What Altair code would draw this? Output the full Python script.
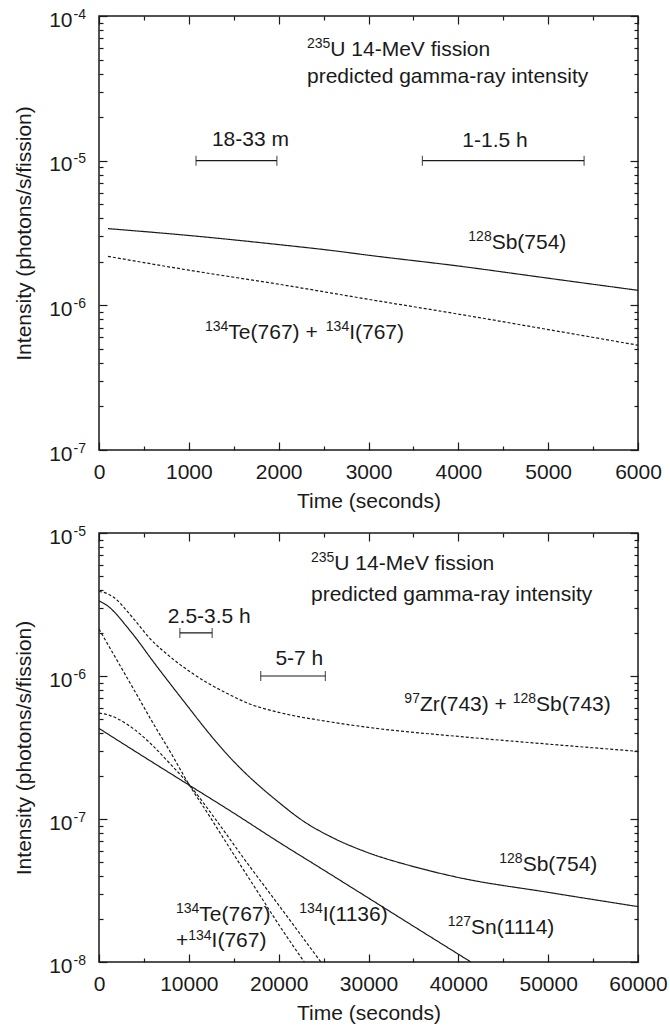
import re
import altair as alt
import pandas as pd

FONT = "Liberation Sans"
INK = "#1a1a1a"
FS = 21      # main text size
SUP = 14     # superscript size

# ---------------- top panel ----------------
top_x_domain = [0, 6000]
top_y_domain = [1e-7, 1e-4]
top_x_major = [0, 1000, 2000, 3000, 4000, 5000, 6000]
top_x_minor = [500, 1500, 2500, 3500, 4500, 5500]
top_decades = [1e-7, 1e-6, 1e-5, 1e-4]

top_sb754_t = [100, 1000, 2000, 2600, 3000, 4000, 5000, 6000]
top_sb754_v = [3.39e-6, 3.04e-6, 2.63e-6, 2.39e-6, 2.22e-6, 1.87e-6, 1.54e-6, 1.27e-6]
top_tei767_t = [100, 1000, 2000, 3000, 4000, 5000, 6000]
top_tei767_v = [2.18e-6, 1.75e-6, 1.40e-6, 1.10e-6, 8.7e-7, 6.8e-7, 5.3e-7]

top_bar_x1 = [1080, 3600]
top_bar_x2 = [1980, 5400]
top_bar_y = [1e-5, 1e-5]

top_lab_x = [2315, 2315, 1686, 4408, 4111, 1180]
top_lab_y = [6.0e-5, 3.88e-5, 1.42e-5, 1.40e-5, 2.77e-6, 6.6e-7]
top_lab_text = ["{235}U 14-MeV fission", "predicted gamma-ray intensity",
                "18-33 m", "1-1.5 h", "{128}Sb(754)", "{134}Te(767) + {134}I(767)"]
top_lab_anchor = ["left", "left", "center", "center", "left", "left"]

# ---------------- bottom panel ----------------
bot_x_domain = [0, 60000]
bot_y_domain = [1e-8, 1e-5]
bot_x_major = [0, 10000, 20000, 30000, 40000, 50000, 60000]
bot_x_minor = [5000, 15000, 25000, 35000, 45000, 55000]
bot_decades = [1e-8, 1e-7, 1e-6, 1e-5]

bot_zr743_t = [0, 1000, 2000, 3000, 4000, 5600, 8000, 10240, 12000, 14000, 16700,
               20000, 26000, 30000, 40000, 50000, 60000]
bot_zr743_v = [3.9e-6, 3.75e-6, 3.4e-6, 2.9e-6, 2.45e-6, 1.85e-6, 1.35e-6, 1.06e-6,
               9.0e-7, 7.7e-7, 6.4e-7, 5.57e-7, 4.75e-7, 4.37e-7, 3.78e-7, 3.34e-7, 2.97e-7]
bot_sb754_t = [0, 1000, 2000, 3000, 4000, 6000, 8000, 10000, 12000, 14000, 16000, 18000,
               20000, 22500, 26400, 30000, 35000, 40000, 50000, 60000]
bot_sb754_v = [3.35e-6, 3.08e-6, 2.68e-6, 2.25e-6, 1.88e-6, 1.27e-6, 8.7e-7, 6.0e-7,
               4.15e-7, 2.95e-7, 2.18e-7, 1.67e-7, 1.31e-7, 9.9e-8, 7.2e-8, 5.8e-8,
               4.65e-8, 3.9e-8, 3.07e-8, 2.44e-8]
bot_sn1114_t = [0, 5000, 10000, 15000, 20000, 25000, 30000, 35000, 41400]
bot_sn1114_v = [4.3e-7, 2.72e-7, 1.73e-7, 1.10e-7, 6.9e-8, 4.4e-8, 2.8e-8, 1.78e-8, 1.0e-8]
bot_i1136_t = [0, 1000, 2000, 3000, 4000, 6000, 8000, 10000, 13000, 16170, 20000, 24700]
bot_i1136_v = [5.5e-7, 5.35e-7, 5.05e-7, 4.65e-7, 4.2e-7, 3.25e-7, 2.4e-7, 1.75e-7,
               9.9e-8, 5.25e-8, 2.5e-8, 1.0e-8]
bot_te767_t = [0, 2000, 4000, 6000, 8000, 10000, 12000, 14000, 16000, 18000, 20000, 22850]
bot_te767_v = [2.13e-6, 1.29e-6, 7.8e-7, 4.7e-7, 2.9e-7, 1.75e-7, 1.12e-7, 7.1e-8,
               4.5e-8, 2.87e-8, 1.83e-8, 1.0e-8]

bot_bar_x1 = [9000, 18000]
bot_bar_x2 = [12600, 25200]
bot_bar_y = [2e-6, 1e-6]

bot_lab_x = [23600, 23600, 12280, 22300, 33990, 44560, 38820, 22300, 8570, 8570]
bot_lab_y = [6.24e-6, 3.80e-6, 2.64e-6, 1.35e-6, 6.47e-7, 4.9e-8, 1.78e-8, 2.2e-8,
             2.2e-8, 1.43e-8]
bot_lab_text = ["{235}U 14-MeV fission", "predicted gamma-ray intensity", "2.5-3.5 h",
                "5-7 h", "{97}Zr(743) + {128}Sb(743)", "{128}Sb(754)", "{127}Sn(1114)",
                "{134}I(1136)", "{134}Te(767)", "+{134}I(767)"]
bot_lab_anchor = ["left", "left", "center", "center", "left", "left", "left", "left",
                  "left", "left"]

MANTISSAS = [2, 3, 4, 5, 6, 7, 8, 9]

# Arial / Liberation Sans advance widths (per 1000 em)
W = {' ': 278, '(': 333, ')': 333, '+': 584, '-': 333, '.': 278,
     'S': 667, 'T': 611, 'I': 278, 'Z': 611, 'U': 722, 'M': 833, 'V': 667,
     'b': 556, 'e': 556, 'r': 333, 'n': 556, 'f': 278, 'i': 222, 's': 500, 'o': 556,
     'c': 500, 'p': 556, 'd': 556, 't': 278, 'g': 556, 'a': 556, 'm': 833, 'y': 500,
     'h': 556, 'l': 222}


def tw(s, size):
    return sum(W.get(ch, 556) for ch in s) / 1000.0 * size


def split_label(label):
    segs = []
    for p in re.split(r'(\{[^}]*\})', label):
        if not p:
            continue
        if p.startswith('{'):
            segs.append((p[1:-1], True))
        else:
            segs.append((p, False))
    return segs


def base_axis(**kw):
    d = dict(domain=False, grid=False, tickColor=INK, tickWidth=1.2,
             labelFont=FONT, labelFontSize=FS, labelColor=INK, labelOverlap=False,
             labelFlush=False, titleFont=FONT, titleFontSize=FS, titleColor=INK,
             titleFontWeight='normal')
    d.update(kw)
    return alt.Axis(**d)


def panel(xdom, ydom, xmaj, xmin, decades, series, bars, labels, height):
    xs = alt.Scale(domain=xdom, nice=False, zero=False)
    ys = alt.Scale(type='log', domain=ydom, nice=False)
    ymin = [m * d for d in decades[:-1] for m in MANTISSAS]
    frame = pd.DataFrame({'x': xdom, 'y': ydom})

    def ghost(xaxis, yaxis):
        return alt.Chart(frame).mark_point(opacity=0).encode(
            x=alt.X('x:Q', scale=xs, axis=xaxis),
            y=alt.Y('y:Q', scale=ys, axis=yaxis))

    rows = []
    for name, dash, ts, vs in series:
        for t, v in zip(ts, vs):
            rows.append({'x': t, 'y': v, 'series': name, 'dash': dash})
    lines = alt.Chart(pd.DataFrame(rows)).mark_line(
        color=INK, strokeWidth=1.2, interpolate='monotone', clip=True).encode(
        x=alt.X('x:Q', scale=xs, axis=base_axis(
            orient='bottom', values=xmaj, offset=-8, tickSize=8, format='d',
            labelBaseline='alphabetic', labelPadding=28,
            title='Time (seconds)', titlePadding=8)),
        y=alt.Y('y:Q', scale=ys, axis=base_axis(
            orient='left', values=decades, offset=-8, tickSize=8,
            labelExpr="'10'", labelAlign='right', labelBaseline='alphabetic',
            labelPadding=27, labelOffset=10,
            title='Intensity (photons/s/fission)', titlePadding=14)),
        detail='series:N',
        strokeDash=alt.StrokeDash('dash:N', scale=alt.Scale(
            domain=['solid', 'dashed'], range=[[1, 0], [3, 2]]), legend=None))

    layers = [
        lines,
        ghost(base_axis(orient='bottom', values=xmin, offset=-4, tickSize=4,
                        labels=False, title=None),
              base_axis(orient='left', values=ymin, offset=-4, tickSize=4,
                        labels=False, title=None)),
        ghost(base_axis(orient='top', values=xmaj, offset=-8, tickSize=8,
                        labels=False, title=None),
              base_axis(orient='right', values=decades, offset=-8, tickSize=8,
                        labels=False, title=None)),
        ghost(base_axis(orient='top', values=xmin, offset=-4, tickSize=4,
                        labels=False, title=None),
              base_axis(orient='right', values=ymin, offset=-4, tickSize=4,
                        labels=False, title=None)),
        ghost(None,
              base_axis(orient='left', values=decades, offset=-8, tickSize=8,
                        tickOpacity=0, labelExpr="'-' + round(-log(datum.value)/LN10)",
                        labelFontSize=SUP, labelAlign='left', labelBaseline='alphabetic',
                        labelPadding=26, labelOffset=2, title=None)),
    ]

    x1s, x2s, bys = bars
    bar_df = pd.DataFrame({'x': x1s, 'x2': x2s, 'y': bys})
    cap_df = pd.DataFrame({'x': list(x1s) + list(x2s), 'y': list(bys) + list(bys)})
    layers.append(alt.Chart(bar_df).mark_rule(color=INK, strokeWidth=1.2).encode(
        x=alt.X('x:Q', scale=xs, axis=None), x2='x2:Q',
        y=alt.Y('y:Q', scale=ys, axis=None)))
    layers.append(alt.Chart(cap_df).mark_tick(
        color=INK, thickness=1.2, size=10, orient='vertical').encode(
        x=alt.X('x:Q', scale=xs, axis=None), y=alt.Y('y:Q', scale=ys, axis=None)))

    lx, ly, ltext, lanchor = labels
    for x, y, text, anchor in zip(lx, ly, ltext, lanchor):
        segs = split_label(text)
        total = sum(tw(s, SUP if sup else FS) for s, sup in segs)
        off = -total / 2.0 if anchor == 'center' else 0.0
        for s, sup in segs:
            size = SUP if sup else FS
            lead = len(s) - len(s.lstrip(' '))
            trail = len(s) - len(s.rstrip(' '))
            core = s.strip(' ')
            off += lead * tw(' ', size)
            layers.append(alt.Chart(pd.DataFrame({'x': [x], 'y': [y]})).mark_text(
                text=core, font=FONT, fontSize=size, color=INK, align='left',
                baseline='alphabetic', dx=off, dy=(0 if sup else 7.5)).encode(
                x=alt.X('x:Q', scale=xs, axis=None),
                y=alt.Y('y:Q', scale=ys, axis=None)))
            off += tw(core, size) + trail * tw(' ', size)

    return alt.layer(*layers).resolve_axis(
        x='independent', y='independent').properties(width=539, height=height)


top = panel(top_x_domain, top_y_domain, top_x_major, top_x_minor, top_decades,
            [('sb754', 'solid', top_sb754_t, top_sb754_v),
             ('tei767', 'dashed', top_tei767_t, top_tei767_v)],
            (top_bar_x1, top_bar_x2, top_bar_y),
            (top_lab_x, top_lab_y, top_lab_text, top_lab_anchor), 434)

bottom = panel(bot_x_domain, bot_y_domain, bot_x_major, bot_x_minor, bot_decades,
               [('zr743', 'dashed', bot_zr743_t, bot_zr743_v),
                ('sb754', 'solid', bot_sb754_t, bot_sb754_v),
                ('sn1114', 'solid', bot_sn1114_t, bot_sn1114_v),
                ('i1136', 'dashed', bot_i1136_t, bot_i1136_v),
                ('te767', 'dashed', bot_te767_t, bot_te767_v)],
               (bot_bar_x1, bot_bar_x2, bot_bar_y),
               (bot_lab_x, bot_lab_y, bot_lab_text, bot_lab_anchor), 429)

chart = alt.vconcat(top, bottom, spacing=83, bounds='flush').properties(
    padding={'left': 12, 'top': 6, 'right': 0, 'bottom': 0}
).configure(font=FONT).configure_view(stroke=INK, strokeWidth=1.5)

chart.save("out.html", embed_options={"renderer": "svg", "actions": False})
